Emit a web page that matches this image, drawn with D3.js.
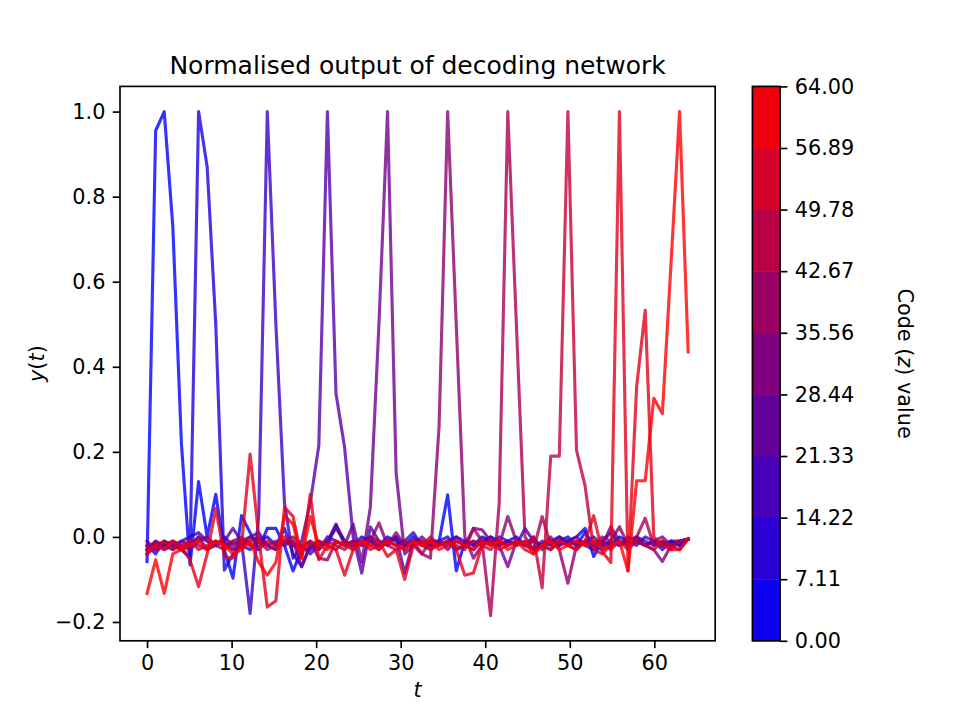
<!DOCTYPE html>
<html><head><meta charset="utf-8">
<script src="https://cdn.jsdelivr.net/npm/d3@7"></script>
<style>
body{margin:0;background:#fff}
svg{display:block}
text{font-family:"DejaVu Sans",sans-serif;fill:#000}
</style>
</head><body>
<svg id="chart" width="960" height="720"></svg>
<script>
// ---------------- data ----------------
const codeValues = [0.00, 7.11, 14.22, 21.33, 28.44, 35.56, 42.67, 49.78, 56.89, 64.00];

const line0 = [-0.058, 0.955, 1.000, 0.730, 0.220, -0.066, 0.130, 0.000, 0.100, -0.030,
 -0.097, 0.050, 0.010, -0.030, 0.020, 0.020, -0.020, -0.080, -0.030, -0.030,
 -0.010, -0.020, 0.028, -0.010, -0.020, 0.000, -0.010, -0.020, 0.000, -0.010,
 -0.020, 0.000, -0.020, -0.010, -0.010, 0.099, -0.080, -0.010, -0.020, 0.000,
 -0.010, -0.020, -0.010, 0.000, -0.020, -0.030, -0.020, -0.010, -0.020, -0.010,
 0.000, 0.020, -0.046, -0.010, -0.020, 0.000, -0.010, 0.000, -0.020, -0.010,
 -0.020, -0.010, -0.020, -0.005];
const line1 = [-0.020, -0.040, -0.010, -0.020, -0.030, -0.050, 1.000, 0.870, 0.500, -0.078,
 -0.040, -0.020, -0.030, -0.010, 0.000, -0.020, 0.020, -0.040, -0.070, -0.020,
 -0.030, 0.000, -0.010, -0.020, -0.010, -0.020, -0.010, -0.030, -0.010, 0.000,
 -0.020, -0.010, -0.010, -0.020, -0.010, 0.000, -0.030, -0.020, -0.010, -0.020,
 0.000, -0.010, -0.020, -0.010, -0.020, -0.010, -0.020, -0.030, -0.010, 0.000,
 -0.020, 0.010, -0.020, -0.030, -0.010, -0.020, 0.000, -0.010, -0.020, -0.010,
 -0.030, -0.010, -0.020, -0.005];
const line2 = [-0.030, -0.010, -0.030, -0.020, -0.010, 0.000, 0.010, -0.010, -0.020, 0.000,
 -0.020, -0.010, -0.180, 0.050, 1.000, 0.500, 0.080, -0.050, -0.020, -0.040,
 -0.020, -0.010, 0.020, -0.010, -0.030, -0.010, 0.000, -0.020, -0.010, -0.020,
 -0.010, 0.010, -0.020, -0.010, -0.020, -0.010, 0.000, -0.020, -0.030, -0.010,
 -0.020, 0.000, -0.010, -0.020, 0.020, -0.010, -0.020, -0.010, 0.000, -0.020,
 -0.010, -0.020, -0.030, -0.010, 0.010, -0.020, -0.010, -0.020, 0.000, -0.010,
 -0.020, -0.010, -0.010, -0.005];
const line3 = [-0.040, -0.020, -0.020, -0.030, -0.010, -0.020, 0.000, -0.030, -0.020, -0.010,
 0.020, -0.010, 0.000, 0.010, -0.020, -0.030, -0.010, -0.020, -0.010, 0.080,
 0.215, 1.000, 0.337, 0.210, 0.000, -0.085, 0.024, -0.010, -0.020, 0.000,
 -0.085, -0.010, -0.020, -0.030, -0.010, -0.020, 0.000, -0.010, -0.020, -0.010,
 0.000, -0.020, -0.010, -0.020, -0.010, -0.030, -0.010, -0.020, 0.000, -0.010,
 -0.020, -0.010, 0.000, -0.020, -0.010, -0.020, -0.010, 0.000, -0.010, -0.020,
 -0.010, -0.020, -0.010, -0.005];
const line4 = [-0.010, -0.030, -0.020, -0.010, -0.020, -0.030, -0.010, 0.000, -0.020, -0.010,
 -0.030, -0.020, -0.010, 0.000, -0.020, -0.010, -0.020, -0.010, -0.070, -0.020,
 -0.030, -0.010, 0.030, -0.020, 0.030, -0.060, 0.070, 0.500, 1.000, 0.150,
 -0.040, -0.020, 0.000, -0.020, -0.010, -0.030, -0.010, -0.020, 0.020, 0.017,
 -0.010, -0.020, -0.070, -0.010, -0.020, 0.000, -0.030, -0.010, -0.020, -0.010,
 0.000, -0.020, -0.010, -0.020, 0.024, -0.010, -0.020, -0.010, -0.020, -0.010,
 0.000, -0.020, -0.010, -0.005];
const line5 = [-0.030, -0.010, -0.020, -0.010, -0.030, -0.020, 0.000, -0.010, -0.020, -0.030,
 -0.010, -0.020, 0.000, -0.010, -0.020, -0.030, -0.010, 0.000, -0.020, -0.010,
 -0.050, -0.054, -0.010, -0.020, -0.010, -0.020, -0.010, 0.033, -0.020, 0.010,
 -0.020, -0.010, -0.040, -0.050, 0.260, 1.000, 0.500, 0.000, -0.050, -0.020,
 -0.010, -0.020, 0.048, -0.010, -0.020, -0.010, -0.020, 0.000, -0.030, -0.109,
 -0.020, -0.010, -0.020, 0.000, -0.010, 0.024, -0.020, -0.010, -0.020, -0.030,
 -0.058, -0.020, -0.010, -0.005];
const line6 = [-0.020, -0.030, -0.010, -0.020, -0.030, -0.010, -0.020, -0.030, -0.010, -0.020,
 -0.010, 0.000, -0.020, -0.010, -0.030, -0.020, -0.010, -0.020, -0.030, -0.010,
 -0.020, -0.010, -0.020, -0.030, -0.010, -0.020, 0.000, -0.010, -0.020, -0.030,
 -0.010, -0.020, -0.040, -0.010, -0.020, -0.010, -0.020, -0.030, 0.020, -0.010,
 -0.185, 0.080, 1.000, 0.500, 0.000, -0.030, 0.048, -0.020, -0.010, -0.020,
 -0.030, -0.010, -0.020, -0.010, -0.030, -0.010, -0.020, 0.000, 0.044, -0.020,
 -0.010, -0.030, -0.010, -0.005];
const line7 = [-0.030, -0.020, -0.010, -0.030, -0.020, -0.010, -0.030, -0.020, -0.010, -0.020,
 -0.030, -0.010, -0.020, -0.030, -0.010, -0.020, 0.000, -0.010, -0.030, -0.020,
 -0.010, -0.020, -0.030, -0.010, -0.020, -0.010, -0.030, -0.020, -0.010, -0.020,
 -0.030, -0.010, -0.020, 0.000, -0.020, -0.010, -0.030, -0.020, -0.010, -0.020,
 -0.030, -0.010, -0.020, -0.010, -0.020, 0.000, -0.120, 0.190, 0.190, 1.000,
 0.204, 0.120, -0.030, -0.040, -0.020, -0.010, -0.030, -0.010, -0.020, -0.030,
 -0.010, -0.020, -0.030, -0.005];
const line8 = [-0.040, -0.020, -0.030, -0.010, -0.020, -0.054, -0.117, -0.040, 0.067, -0.046,
 -0.050, -0.020, 0.195, 0.000, -0.165, -0.150, 0.070, 0.048, -0.050, 0.100,
 -0.054, -0.020, -0.030, -0.090, -0.030, -0.010, -0.020, -0.010, -0.046, -0.030,
 -0.100, -0.020, -0.010, -0.030, -0.020, -0.010, -0.030, -0.090, -0.085, -0.020,
 -0.010, -0.030, -0.020, -0.010, -0.030, -0.040, -0.020, -0.030, -0.010, -0.020,
 -0.030, -0.010, 0.050, -0.035, -0.060, 1.000, -0.080, 0.353, 0.533, 0.000,
 -0.020, -0.030, -0.030, -0.005];
const line9 = [-0.133, -0.054, -0.133, -0.040, -0.030, -0.020, -0.010, -0.030, -0.010, -0.020,
 -0.040, -0.030, -0.010, -0.060, -0.090, -0.060, 0.050, 0.030, -0.050, 0.048,
 -0.020, -0.030, -0.010, -0.020, -0.030, -0.010, -0.020, -0.030, -0.010, -0.020,
 -0.030, -0.010, -0.020, -0.010, -0.030, -0.020, -0.010, -0.020, -0.030, -0.010,
 -0.020, -0.010, -0.030, -0.020, -0.010, -0.040, -0.020, -0.010, -0.030, -0.020,
 -0.010, -0.020, -0.010, -0.030, -0.020, -0.010, -0.080, 0.132, 0.132, 0.326,
 0.290, 0.640, 1.000, 0.435];

const series = [line0, line1, line2, line3, line4, line5, line6, line7, line8, line9];
// time grid: 64 samples evenly spaced over [0, 64]
const tValues = d3.range(64).map(i => i * 64 / 63);

const xTicks = [0, 10, 20, 30, 40, 50, 60];
const yTicks = [-0.2, 0.0, 0.2, 0.4, 0.6, 0.8, 1.0];
const cbBoundaries = [0.00, 7.11, 14.22, 21.33, 28.44, 35.56, 42.67, 49.78, 56.89, 64.00];

const titleText = "Normalised output of decoding network";
const cbLabel = ["Code (", "z", ") value"];

// ---------------- layout ----------------
const svg = d3.select("#chart");
const L = 120, R = 715.2, T = 86.4, B = 640.8;
const FS = 20.8, TICK = 7.3, PAD = 7.3, LW = 1.67;

const tExt = d3.extent(tValues);
const tPad = (tExt[1] - tExt[0]) * 0.05;
const x = d3.scaleLinear().domain([tExt[0] - tPad, tExt[1] + tPad]).range([L, R]);
const yExt = d3.extent(series.flat());
const yPad = (yExt[1] - yExt[0]) * 0.05;
const y = d3.scaleLinear().domain([yExt[0] - yPad, yExt[1] + yPad]).range([B, T]);

const cmap = d3.interpolateRgb("#0000ff", "#ff0000");

// lines
svg.append("defs").append("clipPath").attr("id", "clip")
  .append("rect").attr("x", L).attr("y", T).attr("width", R - L).attr("height", B - T);
const line = d3.line().x((d, i) => x(tValues[i])).y(d => y(d));
svg.append("g").attr("clip-path", "url(#clip)")
  .selectAll("path").data(series).join("path")
  .attr("d", line)
  .attr("fill", "none")
  .attr("stroke", (d, k) => cmap(codeValues[k] / 64))
  .attr("stroke-opacity", 0.8)
  .attr("stroke-width", 3.125)
  .attr("stroke-linejoin", "round")
  .attr("stroke-linecap", "square");

// axes
const fmtY = d => (d < 0 ? "\u2212" : "") + Math.abs(d).toFixed(1);
const gx = svg.append("g").attr("transform", `translate(0,${B})`)
  .call(d3.axisBottom(x).tickValues(xTicks).tickSize(TICK).tickPadding(PAD).tickSizeOuter(0));
const gy = svg.append("g").attr("transform", `translate(${L},0)`)
  .call(d3.axisLeft(y).tickValues(yTicks).tickFormat(fmtY).tickSize(TICK).tickPadding(PAD).tickSizeOuter(0));
[gx, gy].forEach(g => {
  g.select(".domain").remove();
  g.selectAll("line").attr("stroke", "#000").attr("stroke-width", LW);
  g.selectAll("text").attr("font-size", FS).attr("font-family", "DejaVu Sans").attr("fill", "#000");
});
svg.append("rect").attr("x", L).attr("y", T).attr("width", R - L).attr("height", B - T)
  .attr("fill", "none").attr("stroke", "#000").attr("stroke-width", LW);

// title and labels
svg.append("text").attr("x", (L + R) / 2).attr("y", 74).attr("text-anchor", "middle")
  .attr("font-size", 25).text(titleText);
svg.append("text").attr("x", (L + R) / 2).attr("y", 697).attr("text-anchor", "middle")
  .attr("font-size", FS).attr("font-style", "italic").text("t");
const yl = svg.append("text").attr("transform", `translate(44,${(T + B) / 2}) rotate(-90)`)
  .attr("text-anchor", "middle").attr("font-size", FS);
yl.append("tspan").attr("font-style", "italic").text("y");
yl.append("tspan").text("(");
yl.append("tspan").attr("font-style", "italic").text("t");
yl.append("tspan").text(")");

// colorbar
const CL = 752.4, CR = 780.1;
const cy = d3.scaleLinear().domain([cbBoundaries[0], cbBoundaries[cbBoundaries.length - 1]]).range([B, T]);
const bands = d3.pairs(cbBoundaries);
svg.append("g").selectAll("rect").data(bands).join("rect")
  .attr("x", CL).attr("width", CR - CL)
  .attr("y", d => cy(d[1]))
  .attr("height", d => cy(d[0]) - cy(d[1]) + 0.5)
  .attr("fill", (d, i) => cmap((i + 0.5) / bands.length));
svg.append("rect").attr("x", CL).attr("y", T).attr("width", CR - CL).attr("height", B - T)
  .attr("fill", "none").attr("stroke", "#000").attr("stroke-width", LW);
const gc = svg.append("g").attr("transform", `translate(${CR},0)`)
  .call(d3.axisRight(cy).tickValues(cbBoundaries).tickFormat(d => d.toFixed(2)).tickSize(TICK).tickPadding(PAD).tickSizeOuter(0));
gc.select(".domain").remove();
gc.selectAll("line").attr("stroke", "#000").attr("stroke-width", LW);
gc.selectAll("text").attr("font-size", FS).attr("font-family", "DejaVu Sans").attr("fill", "#000");

const cl = svg.append("text").attr("transform", `translate(898,${(T + B) / 2}) rotate(90)`)
  .attr("text-anchor", "middle").attr("font-size", FS);
cl.append("tspan").text(cbLabel[0]);
cl.append("tspan").attr("font-style", "italic").text(cbLabel[1]);
cl.append("tspan").text(cbLabel[2]);
</script>
</body></html>
